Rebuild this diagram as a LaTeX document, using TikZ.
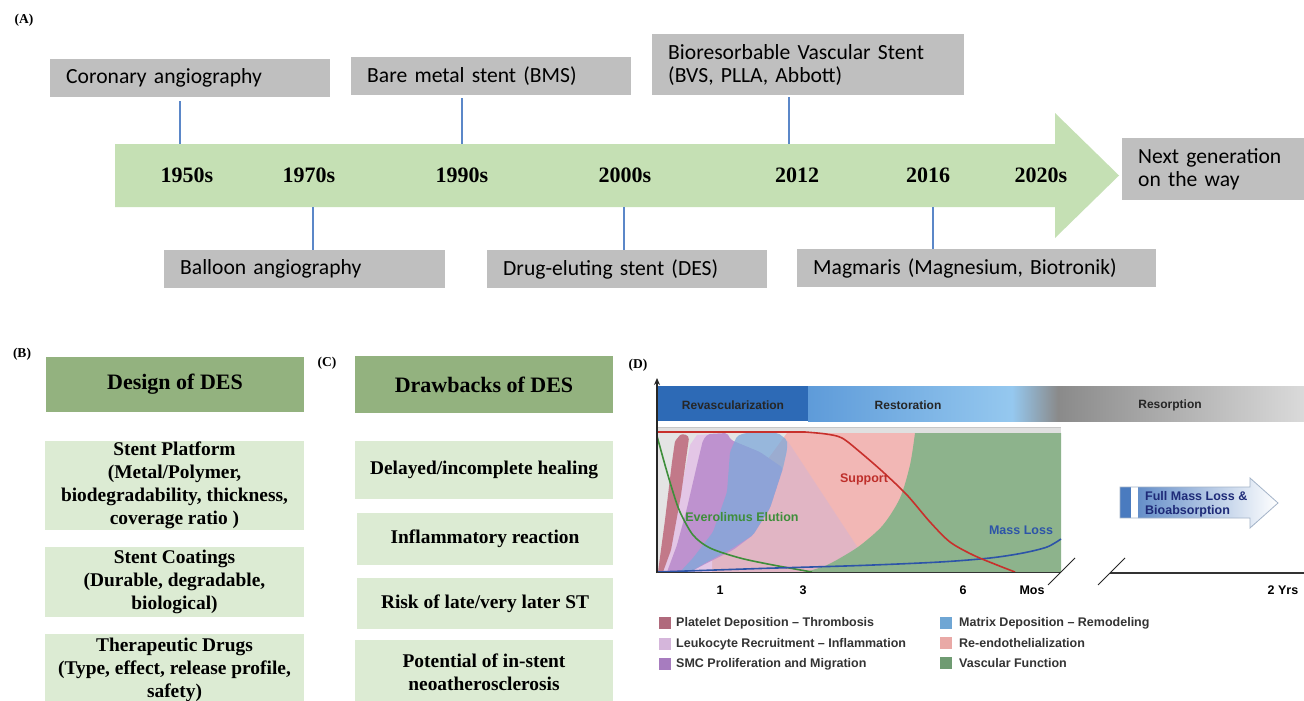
\documentclass[tikz,border=0pt]{standalone}
\usepackage{fontspec}
\setmainfont{Liberation Serif}
\newfontfamily\calfont{Carlito}
\newfontfamily\helfont{Liberation Sans}
\usetikzlibrary{arrows.meta}
\definecolor{boxgray}{HTML}{BFBFBF}
\definecolor{bargreen}{HTML}{C5E0B4}
\definecolor{conblue}{HTML}{5B87C8}
\definecolor{hdgreen}{HTML}{93B27F}
\definecolor{ltgreen}{HTML}{DCEBD3}
\definecolor{revblue}{HTML}{2D6AB6}
\definecolor{resA}{HTML}{5E9BD9}
\definecolor{resB}{HTML}{95C8EF}
\definecolor{grA}{HTML}{8A8A8A}
\definecolor{grB}{HTML}{DADADA}
\definecolor{plotbg}{HTML}{E4E4E4}
\definecolor{reendo}{HTML}{F2B7B5}
\definecolor{vasc}{HTML}{8DB38C}
\definecolor{platelet}{HTML}{C27989}
\definecolor{leuko}{HTML}{E3C6E6}
\definecolor{smc}{HTML}{BE92CF}
\definecolor{matrixc}{HTML}{7EA9DA}
\definecolor{lavov}{HTML}{C8B4DC}
\definecolor{supc}{HTML}{C8302C}
\definecolor{evec}{HTML}{3E8E3A}
\definecolor{massc}{HTML}{2D54A8}
\definecolor{lgPlat}{HTML}{B06A7C}
\definecolor{lgLeuk}{HTML}{D5B6DB}
\definecolor{lgSmc}{HTML}{A77CBF}
\definecolor{lgMat}{HTML}{6FA6D4}
\definecolor{lgRe}{HTML}{E9A9A6}
\definecolor{lgVas}{HTML}{6F9B72}
\definecolor{navy}{HTML}{1E2A78}
\definecolor{arrblue}{HTML}{4A7BBF}
\begin{document}
\begin{tikzpicture}[x=1pt,y=-1pt,
  panlab/.style={font=\bfseries\fontsize{13.5}{15}\selectfont, inner sep=0},
  abox/.style={fill=boxgray, anchor=north west, inner xsep=16pt, inner ysep=0pt, align=left,
    font=\calfont\fontsize{21.6}{23}\selectfont, text width=#1},
  yr/.style={font=\bfseries\fontsize{22}{24}\selectfont, inner sep=0},
  conn/.style={draw=conblue, line width=1.1pt},
  hdr/.style={fill=hdgreen, minimum width=258pt, minimum height=55pt, inner sep=0,
    font=\bfseries\fontsize{22}{26}\selectfont},
  bbox/.style={fill=ltgreen, minimum width=259pt, inner sep=0, align=center,
    font=\bfseries\fontsize{19.4}{23}\selectfont},
  dlab/.style={font=\helfont\bfseries\fontsize{12}{14}\selectfont, inner sep=0},
  tick/.style={font=\helfont\bfseries\fontsize{12.5}{14}\selectfont, inner sep=0},
  legsq/.style={minimum width=12pt, minimum height=12pt, inner sep=0},
  legtx/.style={font=\helfont\bfseries\fontsize{12.5}{14}\selectfont, text=black!80, inner sep=0, anchor=west},
  clab/.style={font=\helfont\bfseries\fontsize{12.5}{14}\selectfont, inner sep=0}
]
\useasboundingbox (0,0) rectangle (1304,701);
\fill[white] (0,0) rectangle (1304,701);

%% ---------------- Panel A ----------------
\node[panlab] (labA) at (24,20) {(A)};
\fill[bargreen] (115,144) -- (1055,144) -- (1055,113) -- (1119,175.5) -- (1055,238) -- (1055,207) -- (115,207) -- cycle;
\node[inner sep=0, minimum width=940pt, minimum height=63pt, anchor=north west] (bar) at (115,144) {};

\node[abox=248pt, minimum height=38pt] (cor) at (50,59) {Coronary angiography};
\node[abox=248pt, minimum height=38pt] (bms) at (351,57) {Bare metal stent (BMS)};
\node[abox=280pt, minimum height=61pt] (bvs) at (652,34) {Bioresorbable Vascular Stent\\(BVS, PLLA, Abbott)};
\node[abox=249pt, minimum height=38pt] (bal) at (164,250) {Balloon angiography};
\node[abox=248pt, minimum height=38pt] (des) at (487,250) {Drug-eluting stent (DES)};
\node[abox=327pt, minimum height=38pt] (mag) at (797,249) {Magmaris (Magnesium, Biotronik)};
\node[abox=170pt, minimum height=62pt] (nxt) at (1122,138) {Next generation\\on the way};

\node[yr] (y1950) at (187,175) {1950s};
\node[yr] (y1970) at (309,175) {1970s};
\node[yr] (y1990) at (462,175) {1990s};
\node[yr] (y2000) at (625,175) {2000s};
\node[yr] (y2012) at (797,175) {2012};
\node[yr] (y2016) at (928,175) {2016};
\node[yr] (y2020) at (1041,175) {2020s};

\coordinate (xa) at (180,0);
\coordinate (xb) at (462,0);
\coordinate (xc) at (789,0);
\coordinate (xd) at (313,0);
\coordinate (xe) at (624,0);
\coordinate (xf) at (933,0);
\draw[conn, shorten <=4pt] (cor.south -| xa) -- (bar.north -| xa);
\draw[conn, shorten <=3pt] (bms.south -| xb) -- (bar.north -| xb);
\draw[conn, shorten <=2pt] (bvs.south -| xc) -- (bar.north -| xc);
\draw[conn] (bar.south -| xd) -- (bal.north -| xd);
\draw[conn] (bar.south -| xe) -- (des.north -| xe);
\draw[conn] (bar.south -| xf) -- (mag.north -| xf);

%% ---------------- Panel B ----------------
\node[panlab] (labB) at (22,354) {(B)};
\node[hdr] (hdB) at (175,384.5) {Design of DES};
\node[bbox, minimum height=89pt] (b1) at (174.5,485.5) {Stent Platform\\(Metal/Polymer,\\biodegradability, thickness,\\coverage ratio )};
\node[bbox, minimum height=70pt] (b2) at (174.5,581.5) {Stent Coatings\\(Durable, degradable,\\biological)};
\node[bbox, minimum height=72pt] (b3) at (174.5,670) {Therapeutic Drugs\\(Type, effect, release profile,\\safety)};

%% ---------------- Panel C ----------------
\node[panlab] (labC) at (327,363) {(C)};
\node[hdr, minimum height=57pt] (hdC) at (484,384.5) {Drawbacks of DES};
\node[bbox, minimum width=258pt, minimum height=58pt] (c1) at (484,470) {Delayed/incomplete healing};
\node[bbox, minimum width=256pt, minimum height=52pt] (c2) at (485,539) {Inflammatory reaction};
\node[bbox, minimum width=256pt, minimum height=51pt] (c3) at (485,603.5) {Risk of late/very later ST};
\node[bbox, minimum width=258pt, minimum height=64pt] (c4) at (484,672) {Potential of in-stent\\neoatherosclerosis};

%% ---------------- Panel D ----------------
\node[panlab] (labD) at (638,365) {(D)};
% phase band
\fill[revblue] (657,386) rectangle (808,421);
\shade[left color=resA, right color=resB] (808,386) rectangle (1012,421);
\shade[left color=resB, right color=grA] (1012,386) rectangle (1058,421);
\shade[left color=grA, right color=grB] (1058,386) rectangle (1304,421);
\node[dlab, text=black!85] (revl) at (733,405) {Revascularization};
\node[dlab, text=black!85] (resl) at (908,405) {Restoration};
\node[dlab, text=black!85] (rsol) at (1170,405) {Resorption};
% strip
\fill[black!12] (657,427) rectangle (1061,433);
\draw[black!22, line width=0.6pt] (657,427.3) -- (1061,427.3);
% plot area
\fill[plotbg] (657,433) rectangle (1061,572);
\fill[reendo] (672,572) -- (700,545) -- (740,497) -- (787,433) -- (918,433) -- (918,572) -- cycle;
\fill[lavov, opacity=0.4] (787,440) -- (858,548) -- (830,572) -- (690,572) -- (707,562) -- (733,548) -- (753,535) -- (770,508) -- (783,468) -- cycle;
\fill[vasc] plot[smooth] coordinates {(806,572) (827,565) (847,554) (862,544) (883,525) (900,498) (910,465) (915,433)} -- (1061,433) -- (1061,572) -- cycle;
\fill[leuko] (660,572) -- (672,530) -- (683,480) -- (690,445) -- (697,435) -- (712,434) -- (712,572) -- cycle;
\fill[smc, rounded corners=2pt] (667,572) -- (677,545) -- (687,508) -- (697,465) -- (703,440) -- (708,434) -- (727,433) -- (731,440) -- (760,452) -- (783,468) -- (770,508) -- (753,535) -- (733,550) -- (707,563) -- (690,572) -- cycle;
\fill[platelet, rounded corners=1.5pt] (658,572) -- (665,520) -- (672,462) -- (675,441) -- (681,434) -- (687,435) -- (689,438) -- (681,495) -- (671,550) -- (663,572) -- cycle;
\fill[matrixc, opacity=0.75, rounded corners=2pt] (680,572) -- (693,558) -- (713,532) -- (727,492) -- (730,452) -- (737,436) -- (745,433) -- (778,433) -- (787,440) -- (787,450) -- (783,468) -- (770,508) -- (753,535) -- (733,548) -- (707,562) -- (690,572) -- cycle;
% curves
\draw[evec, line width=1.6pt] plot[smooth] coordinates {(657,436) (665,465) (673,492) (680,512) (693,535) (710,548) (740,558) (773,565) (812,572)};
\draw[massc, line width=1.6pt] plot[smooth] coordinates {(657,572) (760,568.5) (860,565.5) (940,562) (990,558) (1023,553) (1047,547) (1061,539)};
\draw[supc, line width=1.6pt] (657,432) -- plot[smooth] coordinates {(805,432) (826,434) (842,438) (860,452) (883,472) (907,495) (930,522) (950,542) (973,555) (997,565) (1015,572)};
\node[clab, text=supc!95!black] (supl) at (864,479) {Support};
\node[clab, text=evec] (evel) at (742,517) {Everolimus Elution};
\node[clab, text=massc] (massl) at (1021,530) {Mass Loss};
% axes
\draw[black!85, line width=1.3pt, -{Stealth[length=7pt,width=6pt]}] (657,573) -- (657,378);
\draw[black!80, line width=1.4pt] (657,572.5) -- (1061,572.5);
\draw[black!80, line width=1.4pt] (1110,573) -- (1304,573);
\draw[black!85, line width=1pt] (1048,585) -- (1075,558);
\draw[black!85, line width=1pt] (1098,585) -- (1125,558);
\node[tick] (t1) at (720,590) {1};
\node[tick] (t3) at (803,590) {3};
\node[tick] (t6) at (963,590) {6};
\node[tick] (tm) at (1032,590) {Mos};
\node[tick] (ty) at (1283,590) {2 Yrs};
% full mass loss arrow
\shade[left color=arrblue!85, right color=white] (1138,487) -- (1250,487) -- (1250,478) -- (1278,503) -- (1250,528) -- (1250,518) -- (1138,518) -- cycle;
\fill[arrblue] (1120,487) rectangle (1131,518);
\fill[white] (1131,487) rectangle (1138,518);
\draw[black!30!arrblue!45, line width=0.8pt] (1120,487) -- (1250,487) -- (1250,478) -- (1278,503) -- (1250,528) -- (1250,518) -- (1120,518) -- cycle;
\node[clab, text=navy, anchor=west] (fm1) at (1145,496) {Full Mass Loss \&};
\node[clab, text=navy, anchor=west] (fm2) at (1145,511) {Bioabsorption};
% legend
\node[legsq, fill=lgPlat] (q1) at (665,623) {};
\node[legtx] (l1) at (676,623) {Platelet Deposition – Thrombosis};
\node[legsq, fill=lgLeuk] (q2) at (665,644) {};
\node[legtx] (l2) at (676,644) {Leukocyte Recruitment – Inflammation};
\node[legsq, fill=lgSmc] (q3) at (665,664) {};
\node[legtx] (l3) at (676,664) {SMC Proliferation and Migration};
\node[legsq, fill=lgMat] (q4) at (946,623) {};
\node[legtx] (l4) at (959,623) {Matrix Deposition – Remodeling};
\node[legsq, fill=lgRe] (q5) at (946,643) {};
\node[legtx] (l5) at (959,643) {Re-endothelialization};
\node[legsq, fill=lgVas] (q6) at (946,663) {};
\node[legtx] (l6) at (959,663) {Vascular Function};
\end{tikzpicture}
\end{document}
